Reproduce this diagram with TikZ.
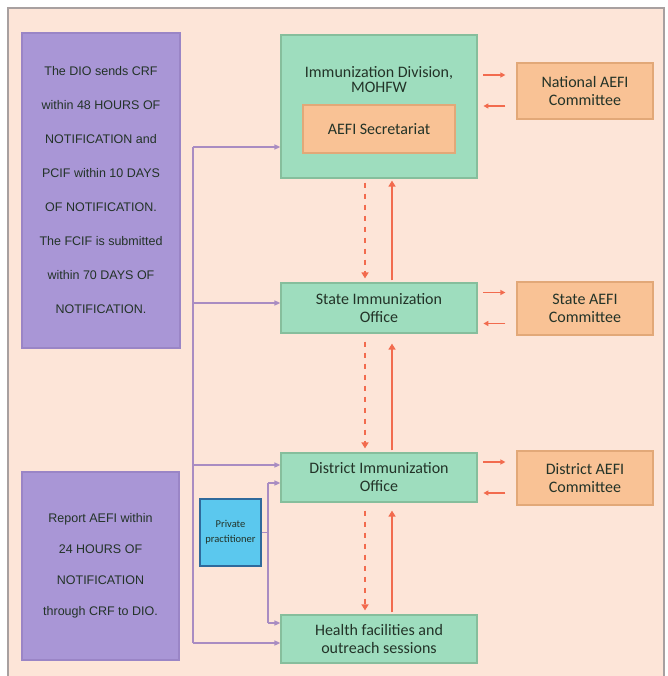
\documentclass[tikz,border=0pt]{standalone}
\usepackage{fontspec}
\setmainfont{Carlito}
\newfontfamily\infofont{Liberation Sans}
\usetikzlibrary{arrows.meta}
\definecolor{peach}{HTML}{FDE5D8}
\definecolor{framegray}{HTML}{A8A0A0}
\definecolor{lav}{HTML}{A996D6}
\definecolor{lavborder}{HTML}{9A85C6}
\definecolor{mint}{HTML}{9EDDBE}
\definecolor{mintborder}{HTML}{86BE9C}
\definecolor{apricot}{HTML}{F9C295}
\definecolor{apricotborder}{HTML}{E2A878}
\definecolor{skyb}{HTML}{5BC8EE}
\definecolor{skyborder}{HTML}{2F6A9C}
\definecolor{redarrow}{HTML}{F26B4E}
\definecolor{lavline}{HTML}{A98CC2}
\definecolor{txtdark}{HTML}{233328}
\tikzset{
  box/.style={draw, line width=1.2pt, inner sep=0pt, align=center, text=txtdark},
  greenbox/.style={box, fill=mint, draw=mintborder, font=\fontsize{16}{18}\selectfont},
  orangebox/.style={box, fill=apricot, draw=apricotborder, font=\fontsize{16}{18}\selectfont},
  purplebox/.style={box, fill=lav, draw=lavborder},
  bluebox/.style={box, fill=skyb, draw=skyborder, font=\fontsize{10.5}{15}\selectfont},
  parr/.style={draw=lavline, line width=1.4pt, -{Triangle[length=6pt,width=5pt]}},
  pline/.style={draw=lavline, line width=1.4pt},
  redh/.style={draw=redarrow, line width=1.6pt, -{Triangle[length=5pt,width=5pt]}},
  redup/.style={draw=redarrow, line width=2.6pt, -{Triangle[length=6pt,width=7pt]}},
  reddash/.style={draw=redarrow, line width=2.6pt, dash pattern=on 5pt off 6pt, -{Triangle[length=6pt,width=7pt]}},
}
\begin{document}
\begin{tikzpicture}[x=1pt,y=-1pt]
\useasboundingbox (0,0) rectangle (667,676);
\fill[white] (0,0) rectangle (667,676);
\fill[peach] (8,8) rectangle (664,676);
\draw[framegray, line width=1.2pt] (8,676) -- (8,8) -- (664,8) -- (664,676);

% left info boxes
\node[purplebox, minimum width=158pt, minimum height=315pt, font=\infofont\fontsize{12.5}{34}\selectfont] (P1) at (101,190.5)
  {The DIO sends CRF\\within 48 HOURS OF\\NOTIFICATION and\\PCIF within 10 DAYS\\OF NOTIFICATION.\\The FCIF is submitted\\within 70 DAYS OF\\NOTIFICATION.};
\node[purplebox, minimum width=157pt, minimum height=188pt, font=\infofont\fontsize{12.5}{31}\selectfont] (P2) at (100.5,566)
  {Report AEFI within\\24 HOURS OF\\NOTIFICATION\\through CRF to DIO.};

% hierarchy
\node[greenbox, minimum width=196pt, minimum height=143pt] (ID) at (379,106.5) {};
\node[font=\fontsize{16}{15}\selectfont, align=center, text=txtdark] (IDlabel) at (379,80) {Immunization Division,\\MOHFW};
\node[orangebox, minimum width=152pt, minimum height=48pt] (SEC) at (379,129) {AEFI Secretariat};
\node[greenbox, minimum width=196pt, minimum height=50pt] (SIO) at (379,308) {State Immunization\\Office};
\node[greenbox, minimum width=196pt, minimum height=49pt] (DIO) at (379,477.5) {District Immunization\\Office};
\node[greenbox, minimum width=196pt, minimum height=48pt] (HF) at (379,639) {Health facilities and\\outreach sessions};

% committees
\node[orangebox, minimum width=136pt, minimum height=56pt] (NAT) at (585,91) {National AEFI\\Committee};
\node[orangebox, minimum width=136pt, minimum height=53pt] (SAC) at (585,308.5) {State AEFI\\Committee};
\node[orangebox, minimum width=136pt, minimum height=54pt] (DAC) at (585,478) {District AEFI\\Committee};

% private practitioner
\node[bluebox, minimum width=61pt, minimum height=67pt] (PP) at (230.5,532.5) {Private\\practitioner};

% red horizontal arrows to/from committees
\foreach \c in {NAT,SAC,DAC}{
  \draw[redh] ([xshift=-33pt,yshift=16pt]\c.west) -- ([xshift=-11pt,yshift=16pt]\c.west);
  \draw[redh] ([xshift=-11pt,yshift=-15pt]\c.west) -- ([xshift=-33pt,yshift=-15pt]\c.west);
}

% red vertical arrows
\draw[reddash] ([xshift=-14pt,yshift=-4pt]ID.south) -- ([xshift=-14pt,yshift=4pt]SIO.north);
\draw[redup] ([xshift=13pt,yshift=2pt]SIO.north) -- ([xshift=13pt,yshift=-2pt]ID.south);
\draw[reddash] ([xshift=-14pt,yshift=-8pt]SIO.south) -- ([xshift=-14pt,yshift=4pt]DIO.north);
\draw[redup] ([xshift=13pt,yshift=2pt]DIO.north) -- ([xshift=13pt,yshift=-10pt]SIO.south);
\draw[reddash] ([xshift=-14pt,yshift=-8pt]DIO.south) -- ([xshift=-14pt,yshift=4pt]HF.north);
\draw[redup] ([xshift=13pt,yshift=2pt]HF.north) -- ([xshift=13pt,yshift=-8pt]DIO.south);

% purple reporting bus
\coordinate (b1) at (193,147);
\coordinate (b2) at (193,303);
\coordinate (b3) at (193,465);
\coordinate (b4) at (193,643);
\draw[pline] (b1) -- (b4);
\draw[parr] (b1) -- (b1 -| ID.west);
\draw[parr] (b2) -- (b2 -| SIO.west);
\draw[parr] (b3) -- (b3 -| DIO.west);
\draw[parr] (b4) -- (b4 -| HF.west);

% private practitioner links
\coordinate (pt) at (268,483);
\coordinate (pb) at (268,623);
\draw[pline] (pt) -- (pb);
\draw[pline] (PP.east) -- (PP.east -| pt);
\draw[parr] (pt) -- (pt -| DIO.west);
\draw[parr] (pb) -- (pb -| HF.west);
\end{tikzpicture}
\end{document}
